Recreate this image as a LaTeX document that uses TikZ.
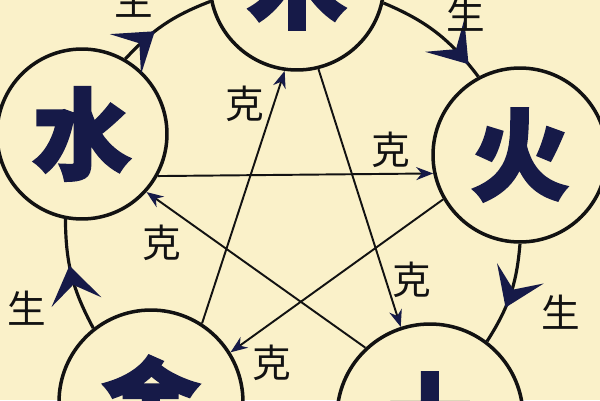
\documentclass[tikz,border=0pt]{standalone}
\usepackage{fontspec}
\usepackage{tikz}
\usetikzlibrary{arrows.meta,decorations.markings}
\newfontfamily\cjk{Noto Sans CJK SC}[BoldFeatures={FakeBold=2.5}]
\definecolor{bgcream}{RGB}{250,241,201}
\definecolor{ink}{RGB}{22,26,72}
\definecolor{linecol}{RGB}{18,18,18}

\begin{document}
\begin{tikzpicture}[x=0.02cm, y=-0.02cm,
                        elem/.style={circle, draw=linecol, line width=2pt, fill=bgcream, inner sep=0pt,
                            minimum size=3.48cm, text=ink, font=\cjk\bfseries\fontsize{56}{56}\selectfont},
                        ke/.style={draw=linecol, line width=1.1pt, -{Stealth[length=3.4mm, width=2.6mm, color=ink]}},
                        sheng/.style={draw=linecol, line width=1.8pt, postaction={decorate},
                            decoration={markings, mark=at position #1 with {\arrow{Stealth[length=5.5mm, width=7.5mm, inset=2.6mm, scale=1.35, color=ink]}}}},
                        lbl/.style={text=linecol, font=\cjk\fontsize{22}{22}\selectfont}]
                        \fill[bgcream] (0,0) rectangle (600,400);
                        \useasboundingbox (0,0) rectangle (600,400);
                        \clip (0,0) rectangle (600,400);

                        \node[elem] (mu) at (297,-17) {木};
                        \node[elem] (huo) at (520,155) {火};
                        \node[elem, minimum size=3.72cm] (tu) at (430,417) {土};
                        \node[elem, minimum size=3.68cm] (jin) at (151,402) {金};
                        \node[elem, minimum size=3.4cm] (shui) at (82,134) {水};

                        \draw[sheng=0.39] (shui.60) to[bend left=13] (mu.192);
                        \draw[sheng=0.87] (mu.-13) to[bend left=15] (huo.118);
                        \draw[sheng=0.63] (huo.-90) to[bend left=14] (tu.53);
                        \draw[sheng=0.59] (jin.128) to[bend left=14] (shui.-101);

                        \draw[ke] (shui.-29) -- (huo.192);
                        \draw[ke] (jin.57) -- (mu.262);
                        \draw[ke] (mu.-76) -- (tu.108);
                        \draw[ke] (tu.133) -- (shui.-42);
                        \draw[ke] (huo.210) -- (jin.32);

                        \node[lbl] (sheng1) at (134,0) {生};
                        \node[lbl] (sheng2) at (466,14) {生};
                        \node[lbl] (sheng3) at (561,312) {生};
                        \node[lbl] (sheng4) at (27,308) {生};

                        \node[lbl] (ke1) at (245,104) {克};
                        \node[lbl] (ke2) at (391,150) {克};
                        \node[lbl] (ke3) at (162,243) {克};
                        \node[lbl] (ke4) at (272,363) {克};
                        \node[lbl] (ke5) at (412,280) {克};
                    \end{tikzpicture}
\end{document}
